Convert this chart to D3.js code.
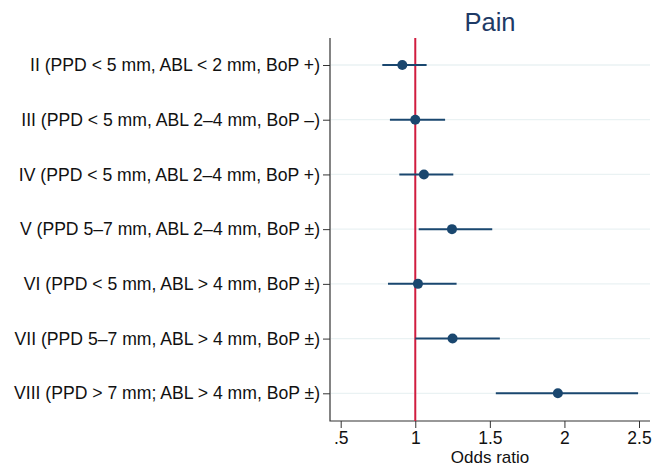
<!DOCTYPE html>
<html>
<head>
<meta charset="utf-8">
<script src="https://cdn.jsdelivr.net/npm/d3@7.9.0/dist/d3.min.js"></script>
<style>
  body { margin: 0; background: #fff; }
  svg { display: block; font-family: "Liberation Sans", Arial, sans-serif; }
</style>
</head>
<body>
<svg id="chart" width="653" height="466"></svg>
<script>
// Odds ratios for pain, by periodontal category
const categories = [
  'II (PPD < 5 mm, ABL < 2 mm, BoP +)',
  'III (PPD < 5 mm, ABL 2–4 mm, BoP –)',
  'IV (PPD < 5 mm, ABL 2–4 mm, BoP +)',
  'V (PPD 5–7 mm, ABL 2–4 mm, BoP ±)',
  'VI (PPD < 5 mm, ABL > 4 mm, BoP ±)',
  'VII (PPD 5–7 mm, ABL > 4 mm, BoP ±)',
  'VIII (PPD > 7 mm; ABL > 4 mm, BoP ±)',
];
const oddsRatio = [0.913, 1.0, 1.058, 1.246, 1.018, 1.25, 1.956];
const ciLow = [0.779, 0.83, 0.893, 1.023, 0.817, 1.0, 1.54];
const ciHigh = [1.076, 1.2, 1.255, 1.516, 1.277, 1.567, 2.494];
const xTicks = [0.5, 1, 1.5, 2, 2.5];
const xTickLabels = ['.5', '1', '1.5', '2', '2.5'];

const rows = categories.map((c, i) => ({
  label: c, or: oddsRatio[i], lo: ciLow[i], hi: ciHigh[i],
}));

const navy = '#1a476f';
const svg = d3.select('#chart');
const m = { left: 330, right: 650, top: 38, bottom: 421 };

const x = d3.scaleLinear().domain([0.5, 2.5]).range([340.7, 639]);
const y = d3.scalePoint().domain(categories).range([65, 393.3]);

// faint row gridlines
svg.append('g')
  .selectAll('line')
  .data(categories)
  .join('line')
  .attr('x1', m.left + 1).attr('x2', m.right)
  .attr('y1', (d) => y(d)).attr('y2', (d) => y(d))
  .attr('stroke', '#eaf2f3')
  .attr('stroke-width', 1.3);

// y axis
const yAxis = svg.append('g')
  .attr('transform', `translate(${m.left},0)`)
  .call(d3.axisLeft(y).tickSize(7).tickPadding(3));
yAxis.select('.domain').remove();
yAxis.selectAll('.tick line').attr('stroke', '#333');
yAxis.selectAll('.tick text')
  .attr('font-size', 17.6)
  .attr('fill', '#111')
  .attr('font-family', '"Liberation Sans", Arial, sans-serif');

// x axis
const xAxis = svg.append('g')
  .attr('transform', `translate(0,${m.bottom})`)
  .call(d3.axisBottom(x)
    .tickValues(xTicks)
    .tickFormat((d, i) => xTickLabels[i])
    .tickSize(7)
    .tickPadding(4));
xAxis.select('.domain').remove();
xAxis.selectAll('.tick line').attr('stroke', '#333');
xAxis.selectAll('.tick text')
  .attr('font-size', 17.5)
  .attr('fill', '#111')
  .attr('font-family', '"Liberation Sans", Arial, sans-serif');

// axis lines (left + bottom)
svg.append('path')
  .attr('d', `M${m.left},${m.top}V${m.bottom}H${m.right}`)
  .attr('fill', 'none')
  .attr('stroke', '#333')
  .attr('stroke-width', 1.2);

// reference line at OR = 1
svg.append('line')
  .attr('x1', x(1)).attr('x2', x(1))
  .attr('y1', m.top).attr('y2', m.bottom)
  .attr('stroke', '#d11c3f')
  .attr('stroke-width', 2);

// CIs
svg.append('g')
  .selectAll('line')
  .data(rows)
  .join('line')
  .attr('x1', (d) => x(d.lo)).attr('x2', (d) => x(d.hi))
  .attr('y1', (d) => y(d.label)).attr('y2', (d) => y(d.label))
  .attr('stroke', navy)
  .attr('stroke-width', 2);

// points
svg.append('g')
  .selectAll('circle')
  .data(rows)
  .join('circle')
  .attr('cx', (d) => x(d.or))
  .attr('cy', (d) => y(d.label))
  .attr('r', 5)
  .attr('fill', navy);

svg.append('text')
  .attr('x', 490).attr('y', 31)
  .attr('text-anchor', 'middle')
  .attr('font-size', 25.5)
  .attr('fill', '#1e3a66')
  .text('Pain');

svg.append('text')
  .attr('x', 490).attr('y', 463)
  .attr('text-anchor', 'middle')
  .attr('font-size', 17)
  .attr('fill', '#111')
  .text('Odds ratio');
</script>
</body>
</html>
